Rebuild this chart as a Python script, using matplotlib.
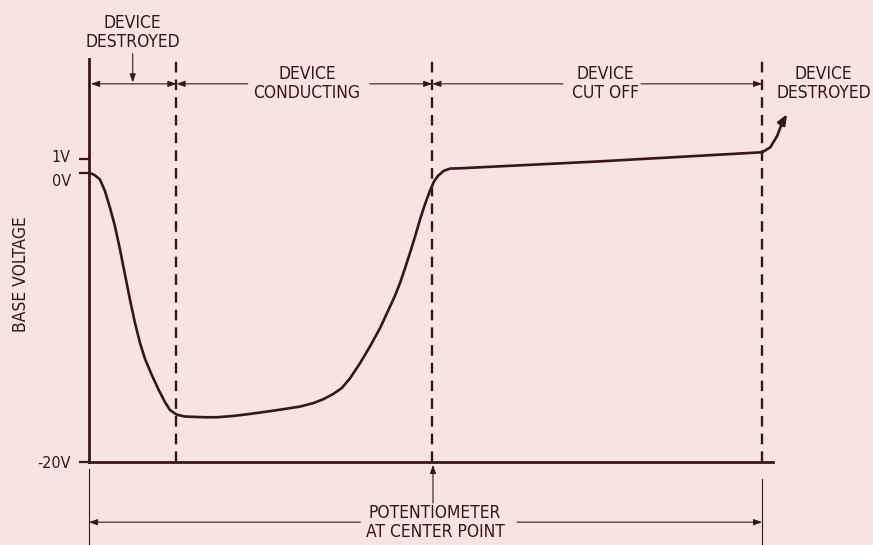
import matplotlib.pyplot as plt
from matplotlib.transforms import offset_copy

# base voltage vs potentiometer position (0 = one end, 100 = other end)
pos = [0, 0.45, 0.89, 1.63, 2.38, 3.12, 3.86, 4.61, 5.35, 6.09, 6.84, 7.58,
       8.32, 9.32, 10.30, 11.29, 12.04, 13.03, 14.26, 17.24, 18.98, 21.44,
       23.92, 26.40, 28.87, 31.35, 33.33, 34.82, 36.30, 37.55, 38.78, 40.27,
       41.75, 43.24, 44.73, 45.47, 46.21, 46.96, 47.70, 48.44, 49.18, 49.93,
       50.67, 51.26, 51.86, 52.65, 53.64, 55.13, 75.93, 100]
volts = [0, -0.03, -0.14, -0.42, -1.23, -2.38, -3.66, -5.28, -7.01, -8.75,
         -10.37, -11.75, -12.85, -13.96, -14.95, -15.85, -16.4, -16.72, -16.85,
         -16.90, -16.90, -16.81, -16.67, -16.51, -16.34, -16.16, -15.92, -15.65,
         -15.28, -14.88, -14.2, -13.15, -11.99, -10.72, -9.22, -8.47, -7.59,
         -6.56, -5.49, -4.38, -3.19, -2.12, -1.18, -0.56, -0.17, 0.16, 0.33,
         0.35, 0.83, 1.46]
# runaway tail past the end of travel
tail_pos = [100, 101.2, 102.2, 103.0]
tail_volts = [1.46, 1.8, 2.57, 3.54]
tip = (103.7, 4.1)

boundaries = [13, 51, 100]
tick_vals = [-20, 0, 1]
tick_labels = ["-20V", "0V", "1V"]

bg = "#f9e2e4"
ink = "#361719"

plt.rcParams['font.family'] = ['DejaVu Sans']
plt.rcParams['font.stretch'] = 'condensed'

fig = plt.figure(figsize=(8.73, 5.45), dpi=100, facecolor=bg)
ax = fig.add_axes([0.1019, 0.1523, 0.7835, 0.7394])
ax.set_facecolor(bg)

ax.plot(pos, volts, color=ink, lw=1.9, solid_joinstyle='round',
        solid_capstyle='round')
ax.plot(tail_pos, tail_volts, color=ink, lw=1.9, clip_on=False,
        solid_joinstyle='round')
ax.annotate("", xy=tip, xytext=(tail_pos[-1], tail_volts[-1]),
            arrowprops=dict(arrowstyle="-|>,head_length=0.6,head_width=0.25",
                            color=ink, lw=1.9, shrinkA=0, shrinkB=0),
            annotation_clip=False)

for b in boundaries:
    ax.plot([b, b], [-20, 7.92], color=ink, lw=1.7, ls=(0, (4.5, 3)), clip_on=False)

ax.set_xlim(0, 101.6)
ax.set_ylim(-20, 7.92)
for s in ["top", "right"]:
    ax.spines[s].set_visible(False)
for s in ["left", "bottom"]:
    ax.spines[s].set_color(ink)
    ax.spines[s].set_linewidth(2.0)
ax.set_xticks([])
ax.set_yticks(tick_vals)
ax.set_yticklabels(tick_labels, fontsize=11.5, color=ink)
ax.tick_params(axis='y', length=7, width=1.6, color=ink, pad=6)

# nudge the crowded 1V / 0V labels apart, as in the original drawing
shifts = {"1V": 2, "0V": -5}
for lab in ax.get_yticklabels():
    dy = shifts.get(lab.get_text(), 0)
    if dy:
        lab.set_transform(offset_copy(lab.get_transform(), fig=fig, y=dy, units='points'))

ax.text(-10.1, -7.0, "BASE VOLTAGE", rotation=90, ha='center', va='center',
        fontsize=12.5, color=ink)

txt = dict(ha='center', va='center', fontsize=12.5, color=ink, linespacing=1.05)
thin = dict(color=ink, lw=0.8, shrinkA=0, shrinkB=0)


def arrow(x0, y0, x1, y1, style="-|>"):
    ax.annotate("", xy=(x1, y1), xytext=(x0, y0),
                arrowprops=dict(arrowstyle=style + ",head_length=0.5,head_width=0.18",
                                **thin), annotation_clip=False)


# regions along the top
ytop = 6.2
ax.text(6.5, 9.75, "DEVICE\nDESTROYED", **txt)
arrow(6.5, 8.3, 6.5, ytop + 0.1)
arrow(6.5, ytop, 0.3, ytop)
arrow(6.5, ytop, boundaries[0], ytop)

ax.text(32.4, ytop, "DEVICE\nCONDUCTING", **txt)
arrow(23.6, ytop, boundaries[0], ytop)
arrow(41.7, ytop, boundaries[1], ytop)

ax.text(76.7, ytop, "DEVICE\nCUT OFF", **txt)
arrow(70.4, ytop, boundaries[1], ytop)
arrow(82.0, ytop, boundaries[2], ytop)

ax.text(109.1, ytop, "DEVICE\nDESTROYED", **txt)

# potentiometer span below the axis
ax.plot([0, 0], [-20.5, -25.8], color=ink, lw=0.8, clip_on=False)
ax.plot([100, 100], [-21.2, -25.8], color=ink, lw=0.8, clip_on=False)
arrow(51.1, -22.85, 51.1, -20.2)
ydim = -24.17
ax.text(51.4, ydim, "POTENTIOMETER\nAT CENTER POINT", **txt)
arrow(40.3, ydim, 0, ydim)
arrow(63.6, ydim, 100, ydim)

fig.savefig("out.png", dpi=100, facecolor=bg)
